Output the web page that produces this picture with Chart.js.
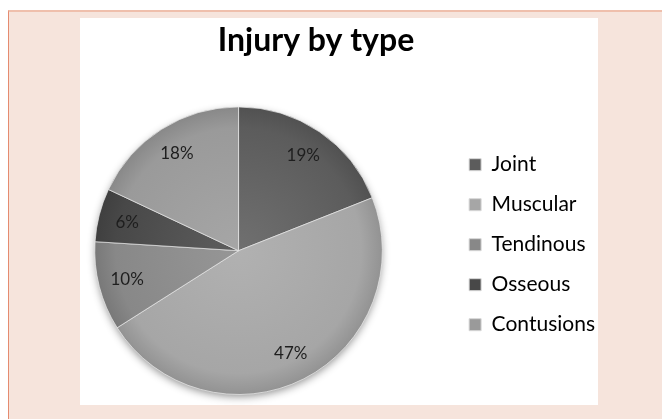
<!DOCTYPE html>
<html>
<head>
<meta charset="utf-8">
<script src="https://cdn.jsdelivr.net/npm/chart.js@4.4.0/dist/chart.umd.min.js"></script>
<style>
  body { margin: 0; background: #ffffff; }
  #frame { position: absolute; left: 8px; top: 10px; width: 654px; height: 407px;
           background: #f6e4dc; border-top: 2px solid #efbfac; border-left: 1px solid #e58b70; }
  #panel { position: absolute; left: 80px; top: 18px; width: 518px; height: 387px; background: #ffffff; }
  #chart { position: absolute; left: 0; top: 0; }
</style>
</head>
<body>
<div id="frame"></div>
<div id="panel"></div>
<canvas id="chart" width="662" height="419"></canvas>
<script>
// datos del grafico
var categorias = ['Joint', 'Muscular', 'Tendinous', 'Osseous', 'Contusions'];
var porcentajes = [19, 47, 10, 6, 18];
var colores = ['#5c5c5c', '#a6a6a6', '#888888', '#484848', '#9a9a9a'];

function aclarar(hex, f) {
    var n = parseInt(hex.slice(1), 16);
    var r = (n >> 16) & 255, g = (n >> 8) & 255, b = n & 255;
    r = Math.round(r + (255 - r) * f); g = Math.round(g + (255 - g) * f); b = Math.round(b + (255 - b) * f);
    return 'rgb(' + r + ',' + g + ',' + b + ')';
}
function oscurecer(hex, f) {
    var n = parseInt(hex.slice(1), 16);
    var r = (n >> 16) & 255, g = (n >> 8) & 255, b = n & 255;
    return 'rgb(' + Math.round(r * (1 - f)) + ',' + Math.round(g * (1 - f)) + ',' + Math.round(b * (1 - f)) + ')';
}

// relleno con degradado radial para el efecto de relieve
function relleno(context) {
    var chart = context.chart;
    var area = chart.chartArea;
    var base = colores[context.dataIndex];
    if (!area) return base;
    var cx = (area.left + area.right) / 2, cy = (area.top + area.bottom) / 2;
    var r = Math.min(area.right - area.left, area.bottom - area.top) / 2;
    var g = chart.ctx.createRadialGradient(cx, cy, 0, cx, cy, r);
    g.addColorStop(0, aclarar(base, 0.12));
    g.addColorStop(0.85, base);
    g.addColorStop(1, oscurecer(base, 0.12));
    return g;
}

// sombra bajo el pastel
var sombra = {
    id: 'sombra',
    beforeDatasetsDraw: function(chart) {
        var arc = chart.getDatasetMeta(0).data[0];
        if (!arc) return;
        var ctx = chart.ctx;
        ctx.save();
        ctx.shadowColor = 'rgba(0,0,0,0.45)';
        ctx.shadowBlur = 8;
        ctx.shadowOffsetY = 3;
        ctx.fillStyle = '#888888';
        ctx.beginPath();
        ctx.arc(arc.x, arc.y, arc.outerRadius - 1, 0, Math.PI * 2);
        ctx.fill();
        ctx.restore();
    }
};

// etiquetas de porcentaje dentro de cada porcion
var etiquetas = {
    id: 'etiquetas',
    afterDatasetsDraw: function(chart) {
        var ctx = chart.ctx;
        var meta = chart.getDatasetMeta(0);
        ctx.save();
        ctx.font = '17px Lato';
        ctx.fillStyle = '#1e1e1e';
        ctx.textAlign = 'center';
        ctx.textBaseline = 'middle';
        meta.data.forEach(function(arc, i) {
            var p = arc.getProps(['x', 'y', 'startAngle', 'endAngle', 'outerRadius']);
            var a = (p.startAngle + p.endAngle) / 2;
            var r = p.outerRadius * 0.8;
            ctx.fillText(porcentajes[i] + '%', p.x + Math.cos(a) * r, p.y + Math.sin(a) * r);
        });
        ctx.restore();
    }
};

var ctx = document.getElementById('chart').getContext('2d');
var chart = new Chart(ctx, {
    type: 'pie',
    data: {
        labels: categorias,
        datasets: [{
            data: porcentajes,
            backgroundColor: relleno,
            borderColor: 'rgba(235,235,235,0.7)',
            borderWidth: 1
        }]
    },
    options: {
        responsive: false,
        animation: false,
        devicePixelRatio: 1,
        layout: { padding: { left: 27, right: 57, top: 0, bottom: 24 } },
        plugins: {
            title: {
                display: true,
                text: 'Injury by type',
                color: '#000000',
                font: { family: 'Lato', size: 32, weight: 'bold' },
                padding: { top: 21, bottom: 47 }
            },
            legend: {
                position: 'right',
                // titulo vacio para bajar las entradas
                title: { display: true, text: ' ', font: { size: 12 }, padding: { top: 80, bottom: 0 } },
                labels: {
                    color: '#000000',
                    font: { family: 'Lato', size: 21 },
                    boxWidth: 12,
                    boxHeight: 12,
                    padding: 19,
                    generateLabels: function(chart) {
                        return categorias.map(function(c, i) {
                            return {
                                text: c,
                                fillStyle: colores[i],
                                strokeStyle: '#d8d8d8',
                                fontColor: '#000000',
                                lineWidth: 1,
                                index: i,
                                hidden: false
                            };
                        });
                    }
                }
            },
            tooltip: { enabled: false }
        }
    },
    plugins: [sombra, etiquetas]
});
</script>
</body>
</html>
